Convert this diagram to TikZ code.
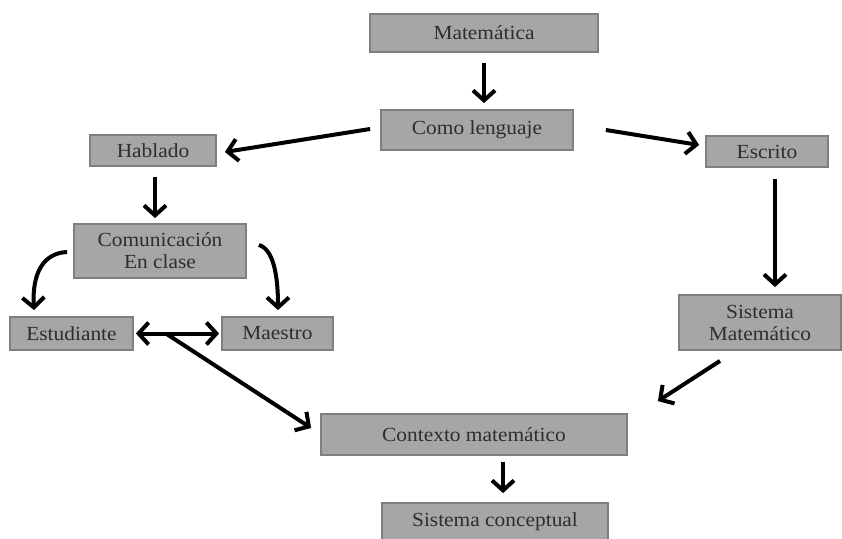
\documentclass[tikz,border=0pt]{standalone}
\usepackage{fontspec}
\setmainfont[FakeStretch=1.07]{Liberation Serif}
\usetikzlibrary{arrows.meta,calc}
\definecolor{boxfill}{HTML}{A6A6A6}
\definecolor{boxdraw}{HTML}{7F7F7F}
\definecolor{txt}{HTML}{2E2E2E}
\begin{document}
\begin{tikzpicture}[x=1pt,y=-1pt,
  box/.style={draw=boxdraw,line width=1.8pt,fill=boxfill,text=txt,font=\fontsize{20}{22}\selectfont,align=center,inner sep=0pt},
  arr/.style={line width=4pt,black,-{Straight Barb[length=10pt,width=22pt,line width=4pt]}},
  darr/.style={line width=4pt,black,{Straight Barb[length=10pt,width=22pt,line width=4pt]}-{Straight Barb[length=10pt,width=22pt,line width=4pt]}}]
\useasboundingbox (0,0) rectangle (842,538);
\node[box,minimum width=228pt,minimum height=38pt] (mat) at (484,33) {Matemática};
\node[box,minimum width=192pt,minimum height=40pt] (len) at (477,130) {Como lenguaje};
\node[box,minimum width=126pt,minimum height=31pt] (hab) at (153,150.5) {Hablado};
\node[box,minimum width=122pt,minimum height=31pt] (esc) at (767,151.5) {Escrito};
\node[box,minimum width=172pt,minimum height=54pt] (com) at (160,251) {Comunicación\\En clase};
\node[box,minimum width=123pt,minimum height=33pt] (est) at (71.5,333.5) {Estudiante};
\node[box,minimum width=111pt,minimum height=33pt] (mae) at (277.5,333.5) {Maestro};
\node[box,minimum width=162pt,minimum height=55pt] (sis) at (760,322.5) {Sistema\\Matemático};
\node[box,minimum width=306pt,minimum height=41pt] (ctx) at (474,434.5) {Contexto matemático};
\node[box,minimum width=226pt,minimum height=38pt] (con) at (495,522) {Sistema conceptual};

\draw[arr] ($(mat.south)+(0,10)$) -- ($(len.north)+(7,-6)$);
\draw[arr] ($(len.west)+(-10,-1)$) -- ($(hab.east)+(8,1.5)$);
\draw[arr] ($(len.east)+(32,0)$) -- ($(esc.west)+(-6,-6.5)$);
\draw[arr] ($(hab.south)+(2,10)$) -- ($(com.north)+(-5,-5)$);
\draw[arr] ($(esc.south)+(8,11)$) -- ($(sis.north)+(15,-7)$);
\draw[arr] ($(com.west)+(-6,1)$) .. controls (44,253) and (32,272) .. ($(est.north)+(-37.5,-6)$);
\draw[arr] ($(com.east)+(12,-6)$) .. controls (276,250) and (278,285) .. ($(mae.north)+(0.5,-6)$);
\draw[darr] ($(est.east)+(2,0)$) -- ($(mae.west)+(-2,0)$);
\draw[arr] ($(est.east)+(32,0)$) -- ($(ctx.west)+(-9,-6.5)$);
\draw[arr] ($(sis.south)+(-40,10)$) -- ($(ctx.north east)+(30,-12)$);
\draw[arr] ($(ctx.south)+(29,6)$) -- ($(con.north)+(8,-9)$);
\end{tikzpicture}
\end{document}
